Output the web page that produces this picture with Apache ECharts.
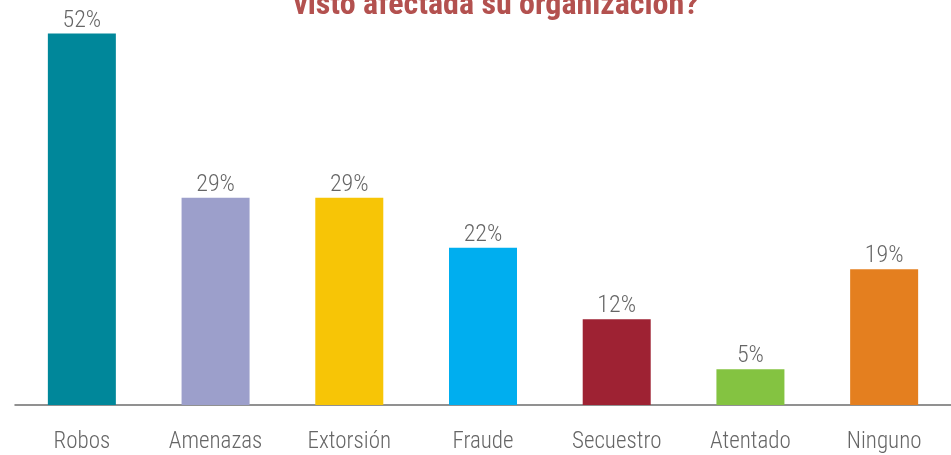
<!DOCTYPE html>
<html>
<head>
<meta charset="utf-8">
<script src="https://cdn.jsdelivr.net/npm/echarts@6/dist/echarts.min.js"></script>
<style>
html,body{margin:0;padding:0;background:#fff;}
#chart{width:951px;height:455px;}
</style>
</head>
<body>
<div id="chart"></div>
<script>
const titleText = 'visto afectada su organización?';
const categories = ['Robos', 'Amenazas', 'Extorsión', 'Fraude', 'Secuestro', 'Atentado', 'Ninguno'];
const values = [52, 29, 29, 22, 12, 5, 19];
const barColors = ['#00879a', '#9c9fcb', '#f7c506', '#00aeef', '#9e2233', '#84c341', '#e47f1f'];

const FONT = '"Roboto Condensed", "Roboto", sans-serif';
const chart = echarts.init(document.getElementById('chart'), null, {renderer: 'canvas'});
chart.setOption({
  animation: false,
  backgroundColor: '#ffffff',
  title: {
    text: titleText,
    left: 491,
    top: -15,
    textAlign: 'center',
    textStyle: {fontFamily: FONT, fontSize: 32, fontWeight: 'bold', color: '#b3514f'}
  },
  grid: {left: 15, width: 942, top: 5, bottom: 50, containLabel: false},
  xAxis: {
    type: 'category',
    data: categories,
    axisLine: {show: true, lineStyle: {color: '#6d6d6d', width: 1.5}},
    axisTick: {show: false},
    axisLabel: {margin: 26, fontFamily: FONT, fontWeight: 300, fontSize: 23, color: '#666666', interval: 0}
  },
  yAxis: {
    type: 'value', min: 0, max: 56,
    show: false,
    splitLine: {show: false}
  },
  series: [{
    type: 'bar',
    barWidth: 68,
    data: values.map((v, i) => ({value: v, itemStyle: {color: barColors[i]}})),
    label: {
      show: true, position: 'top', distance: 1,
      formatter: p => p.value + '%',
      fontFamily: FONT, fontWeight: 300, fontSize: 24, color: '#666666'
    }
  }]
});
</script>
</body>
</html>
